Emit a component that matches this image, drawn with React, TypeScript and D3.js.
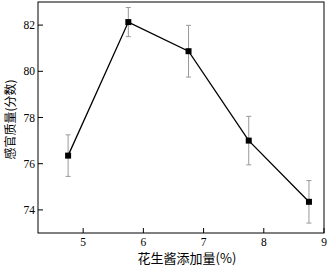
import React from "react";
import * as d3 from "d3";

const xValues = [4.75, 5.75, 6.75, 7.75, 8.75];
const yValues = [76.35, 82.13, 80.87, 77.0, 74.35];
const yErrors = [0.9, 0.63, 1.12, 1.05, 0.92];
const xTicks = [5, 6, 7, 8, 9];
const yTicks = [74, 76, 78, 80, 82];
const xLabel = "花生酱添加量(%)";
const yLabel = "感官质量(分数)";

const W = 328;
const H = 266;
const m = { left: 38, top: 2, right: 4, bottom: 33 };
const serif = "'Times New Roman', 'Liberation Serif', 'DejaVu Serif', serif";
const cjk = "'Noto Sans CJK SC', sans-serif";

export default function App() {
  const x = d3.scaleLinear().domain([4.25, 9]).range([m.left, W - m.right]);
  const y = d3.scaleLinear().domain([73, 83]).range([H - m.bottom, m.top]);
  const line = d3
    .line<number>()
    .x((_, i) => x(xValues[i]))
    .y((d) => y(d));
  const x0 = m.left, x1 = W - m.right, y0 = H - m.bottom, y1 = m.top;
  return (
    <svg width={W} height={H} style={{ position: "absolute", left: 0, top: 0, background: "#fff" }}>
      <rect x={x0} y={y1} width={x1 - x0} height={y0 - y1} fill="none" stroke="#000" strokeWidth={1} />
      {xTicks.map((t) => (
        <g key={t}>
          <line x1={x(t)} x2={x(t)} y1={y0} y2={y0 - 5} stroke="#000" />
          <text x={x(t)} y={y0 + 12.5} textAnchor="middle" style={{ fontFamily: serif, fontSize: 11.5 }}>{t}</text>
        </g>
      ))}
      {yTicks.map((t) => (
        <g key={t}>
          <line x1={x0} x2={x0 + 5} y1={y(t)} y2={y(t)} stroke="#000" />
          <text x={x0 - 3} y={y(t) + 4} textAnchor="end" style={{ fontFamily: serif, fontSize: 11.5 }}>{t}</text>
        </g>
      ))}
      {yValues.map((v, i) => (
        <g key={i} stroke="#999" strokeWidth={1}>
          <line x1={x(xValues[i])} x2={x(xValues[i])} y1={y(v + yErrors[i])} y2={y(v - yErrors[i])} />
          <line x1={x(xValues[i]) - 2.5} x2={x(xValues[i]) + 2.5} y1={y(v + yErrors[i])} y2={y(v + yErrors[i])} />
          <line x1={x(xValues[i]) - 2.5} x2={x(xValues[i]) + 2.5} y1={y(v - yErrors[i])} y2={y(v - yErrors[i])} />
        </g>
      ))}
      <path d={line(yValues) || ""} fill="none" stroke="#000" strokeWidth={1.3} />
      {yValues.map((v, i) => (
        <rect key={i} x={x(xValues[i]) - 3} y={y(v) - 3} width={6} height={6} fill="#000" />
      ))}
      <text x={(x0 + x1) / 2 + 6} y={263} textAnchor="middle" style={{ fontFamily: cjk, fontSize: 13 }}>{xLabel}</text>
      <text transform={`translate(15, ${(y0 + y1) / 2 + 2}) rotate(-90)`} textAnchor="middle" style={{ fontFamily: cjk, fontSize: 12 }}>{yLabel}</text>
    </svg>
  );
}
